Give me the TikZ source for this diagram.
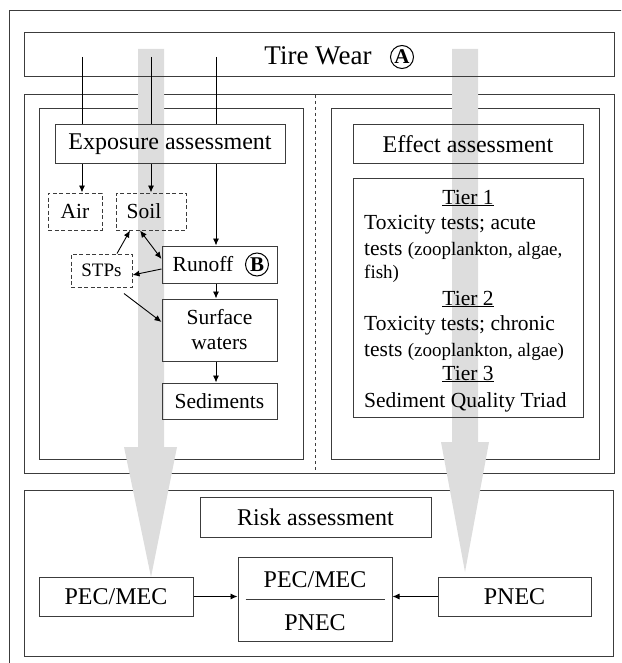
\documentclass[tikz,border=0pt]{standalone}
\usepackage{fontspec}
\setmainfont{Liberation Serif}
\usetikzlibrary{arrows.meta}
\definecolor{flowgray}{RGB}{221,221,221}
\definecolor{framegray}{RGB}{60,60,60}

\begin{document}
\begin{tikzpicture}[x=1pt, y=-1pt,
    frame/.style={draw=framegray, line width=1pt},
    box/.style={draw=framegray, line width=1pt, inner sep=0pt, align=center, font=\fontsize{24}{25}\selectfont},
    smallbox/.style={box, font=\fontsize{21.5}{25}\selectfont},
    dbox/.style={box, dash pattern=on 4pt off 2.5pt},
    circ/.style={circle, draw=black, line width=1pt, inner sep=0pt, minimum size=23pt, font=\fontsize{21}{21}\selectfont\bfseries},
    arr/.style={-{Latex[length=7pt,width=6pt]}, line width=0.9pt},
    tier/.style={anchor=base, inner sep=0pt, font=\fontsize{21.5}{25}\selectfont},
    tierline/.style={anchor=base west, inner sep=0pt, font=\fontsize{21.5}{25}\selectfont}]
    \useasboundingbox (0,0) rectangle (621,663);
    \clip (0,0) rectangle (621,663);

    % frames
    \draw[frame] (9,11) rectangle (640,680);
    \draw[frame] (24,95) rectangle (614,473);
    \draw[frame] (39,109) rectangle (303,459);
    \draw[frame] (331,109) rectangle (599,459);
    \draw[frame] (24,490) rectangle (613,656);
    \draw[frame, dashed] (315,95) -- (315,473);

    % big gray flows
    \fill[flowgray] (138,49) -- (164,49) -- (164,447) -- (177,447) -- (151,577) -- (124,447) -- (138,447) -- cycle;
    \fill[flowgray] (452,49) -- (478,49) -- (478,442) -- (489,442) -- (465,572) -- (441,442) -- (452,442) -- cycle;

    % tire wear
    \node[box, minimum width=590, minimum height=44] (tire) at (319,55) {};
    \node[font=\fontsize{27}{27}\selectfont, inner sep=0pt] (tiretext) at (318,56) {Tire Wear};
    \node[circ] (A) at (402,57) {A};
    \coordinate (tw1) at (82,57);
    \coordinate (tw2) at (151,57);
    \coordinate (tw3) at (216,57);

    % exposure side
    \node[box, minimum width=230, minimum height=39] (expo) at (170,144.5) {Exposure assessment};
    \node[dbox, font=\fontsize{21.5}{25}\selectfont, minimum width=54, minimum height=37] (air) at (75,211.5) {Air};
    \node[dbox, font=\fontsize{21.5}{25}\selectfont, minimum width=70, minimum height=37] (soil) at (151,211.5) {Soil\hspace{14pt}};
    \node[dbox, font=\fontsize{19}{19}\selectfont, minimum width=61, minimum height=33] (stps) at (101.5,270.5) {STPs};
    \node[smallbox, minimum width=115, minimum height=37] (runoff) at (219.5,264.5) {};
    \node[font=\fontsize{21.5}{25}\selectfont, inner sep=0pt] (runofftext) at (203,264.5) {Runoff};
    \node[circ] (B) at (257,264.5) {B};
    \node[smallbox, minimum width=115, minimum height=62] (surface) at (219.5,330) {Surface\\waters};
    \node[smallbox, minimum width=115, minimum height=36] (sediments) at (219.5,401) {Sediments};

    \draw[line width=0.9pt] (tw1) -- (tw1 |- expo.north);
    \draw[line width=0.9pt] (tw2) -- (tw2 |- expo.north);
    \draw[line width=0.9pt] (tw3) -- (tw3 |- expo.north);
    \draw[arr] (expo.south -| tw1) -- (air.north -| tw1);
    \draw[arr] (expo.south -| tw2) -- (soil.north -| tw2);
    \draw[arr] (expo.south -| tw3) -- (runoff.north -| tw3);
    \draw[arr] ([xshift=15.5pt]stps.north) -- ([xshift=-21pt]soil.south);
    \draw[arr, {Latex[length=7pt,width=6pt]}-{Latex[length=7pt,width=6pt]}] ([xshift=-11pt]soil.south) -- ([yshift=5.5pt]runoff.west);
    \draw[arr] ([yshift=-4.5pt]runoff.west) -- ([yshift=-4.5pt]stps.east);
    \draw[arr] ([xshift=22.5pt,yshift=-6pt]stps.south) -- ([yshift=8pt]surface.west);
    \draw[arr] (runoff.south -| tw3) -- (surface.north -| tw3);
    \draw[arr] (surface.south -| tw3) -- (sediments.north -| tw3);

    % effect side
    \node[box, minimum width=230, minimum height=39] (effect) at (468,144.5) {Effect assessment};
    \node[box, minimum width=230, minimum height=239] (tiers) at (468,297.5) {};
    \node[tier] (tier1) at (468,204) {\underline{Tier 1}};
    \node[tierline] (t1a) at (364,229) {Toxicity tests; acute};
    \node[tierline] (t1b) at (364,255) {tests {\fontsize{19}{25}\selectfont(zooplankton, algae,}};
    \node[tierline, font=\fontsize{19}{25}\selectfont] (t1c) at (364,278) {fish)};
    \node[tier] (tier2) at (468,305) {\underline{Tier 2}};
    \node[tierline] (t2a) at (364,330) {Toxicity tests; chronic};
    \node[tierline] (t2b) at (364,356) {tests {\fontsize{19}{25}\selectfont(zooplankton, algae)}};
    \node[tier] (tier3) at (468,380) {\underline{Tier 3}};
    \node[tierline] (t3a) at (364,407) {Sediment Quality Triad};

    % risk
    \node[box, minimum width=231, minimum height=40] (risk) at (315.5,517) {Risk assessment};
    \node[box, minimum width=154, minimum height=39] (pecmec) at (116,596.5) {PEC/MEC};
    \node[box, minimum width=154, minimum height=84] (ratio) at (315,599) {};
    \node[tier, font=\fontsize{24}{25}\selectfont] (ratiotop) at (315,587) {PEC/MEC};
    \node[tier, font=\fontsize{24}{25}\selectfont] (ratiobot) at (315,630) {PNEC};
    \draw[frame] ([xshift=8pt]ratio.west) -- ([xshift=-8pt]ratio.east);
    \node[box, minimum width=153, minimum height=39] (pnec) at (514.5,596.5) {PNEC};
    \draw[arr] (pecmec.east) -- (pecmec.east -| ratio.west);
    \draw[arr] (pnec.west) -- (pnec.west -| ratio.east);
\end{tikzpicture}
\end{document}
